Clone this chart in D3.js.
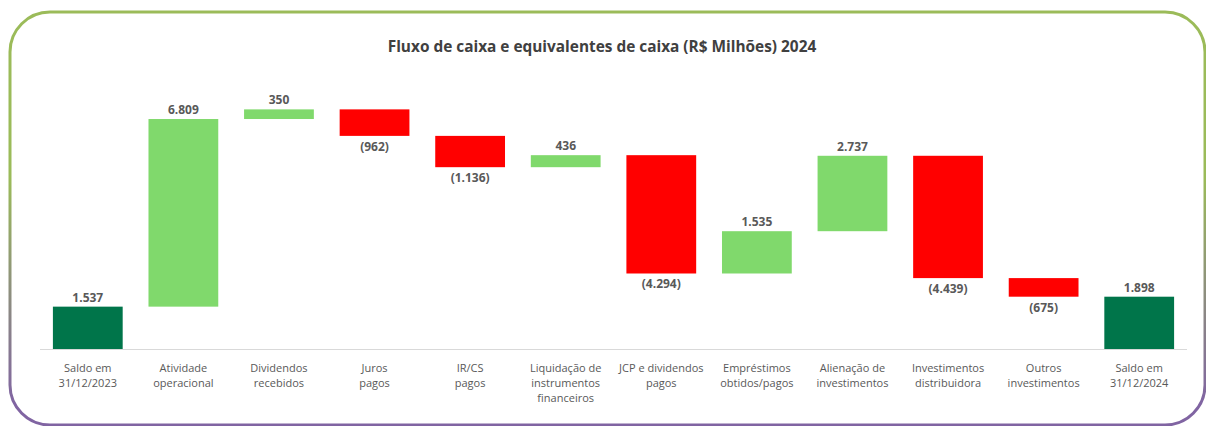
<!DOCTYPE html>
<html>
<head>
<meta charset="utf-8">
<script src="https://cdn.jsdelivr.net/npm/d3@7"></script>
<style>
  body { margin: 0; background: #fff; }
  svg { display: block; font-family: "Open Sans", sans-serif; }
</style>
</head>
<body>
<div id="chart"></div>
<script>
// categories (line breaks as in the original)
const categories = [
  ["Saldo em", "31/12/2023"],
  ["Atividade", "operacional"],
  ["Dividendos", "recebidos"],
  ["Juros", "pagos"],
  ["IR/CS", "pagos"],
  ["Liquidação de", "instrumentos", "financeiros"],
  ["JCP e dividendos", "pagos"],
  ["Empréstimos", "obtidos/pagos"],
  ["Alienação de", "investimentos"],
  ["Investimentos", "distribuidora"],
  ["Outros", "investimentos"],
  ["Saldo em", "31/12/2024"]
];
// values in R$ millions; first and last are totals
const values = [1537, 6809, 350, -962, -1136, 436, -4294, 1535, 2737, -4439, -675, 1898];
const kinds = ["total", "delta", "delta", "delta", "delta", "delta", "delta", "delta", "delta", "delta", "delta", "total"];

const width = 1206, height = 426;

const svg = d3.select("#chart").append("svg")
  .attr("width", width)
  .attr("height", height);

// border gradient green -> purple
const grad = svg.append("defs").append("linearGradient")
  .attr("id", "border")
  .attr("x1", 0).attr("y1", 0).attr("x2", 0).attr("y2", 1);
grad.append("stop").attr("offset", "0%").attr("stop-color", "#9bbb59");
grad.append("stop").attr("offset", "40%").attr("stop-color", "#9bbb59");
grad.append("stop").attr("offset", "95%").attr("stop-color", "#8064a2");

svg.append("rect")
  .attr("x", 10).attr("y", 12)
  .attr("width", 1195).attr("height", 413)
  .attr("rx", 40).attr("ry", 40)
  .attr("fill", "#fff")
  .attr("stroke", "url(#border)")
  .attr("stroke-width", 3);

svg.append("text")
  .attr("x", 602).attr("y", 52)
  .attr("text-anchor", "middle")
  .attr("font-size", 15.4)
  .attr("font-weight", "bold")
  .attr("fill", "#404040")
  .text("Fluxo de caixa e equivalentes de caixa (R$ Milhões) 2024");

// build waterfall steps
let running = 0;
const steps = values.map((v, i) => {
  let start, end;
  if (kinds[i] === "total") {
    start = 0; end = v; running = v;
  } else {
    start = running; end = running + v; running = end;
  }
  return { i, v, kind: kinds[i], start, end };
});

const x = d3.scaleBand()
  .domain(d3.range(categories.length))
  .range([40, 1187])
  .paddingInner(0.27)
  .paddingOuter(0.135);

const y = d3.scaleLinear()
  .domain([0, 9000])
  .range([349, 101]);

const fmt = v => {
  const s = d3.format(",")(Math.abs(v)).replace(/,/g, ".");
  return v < 0 ? "(" + s + ")" : s;
};

const color = d => d.kind === "total" ? "#00754a" : (d.v >= 0 ? "#80d96c" : "#ff0000");

// baseline
svg.append("line")
  .attr("x1", 40).attr("x2", 1187)
  .attr("y1", y(0) + 0.5).attr("y2", y(0) + 0.5)
  .attr("stroke", "#d9d9d9");

svg.selectAll("rect.bar")
  .data(steps)
  .join("rect")
  .attr("class", "bar")
  .attr("x", d => x(d.i))
  .attr("width", x.bandwidth())
  .attr("y", d => y(Math.max(d.start, d.end)))
  .attr("height", d => Math.abs(y(d.start) - y(d.end)))
  .attr("fill", color);

// value labels
svg.selectAll("text.val")
  .data(steps)
  .join("text")
  .attr("class", "val")
  .attr("x", d => x(d.i) + x.bandwidth() / 2)
  .attr("y", d => d.v >= 0 ? y(Math.max(d.start, d.end)) - 5 : y(Math.min(d.start, d.end)) + 15)
  .attr("text-anchor", "middle")
  .attr("font-size", 12)
  .attr("font-weight", "bold")
  .attr("fill", "#595959")
  .text(d => fmt(d.v));

// category labels
const cat = svg.selectAll("text.cat")
  .data(categories)
  .join("text")
  .attr("class", "cat")
  .attr("text-anchor", "middle")
  .attr("font-size", 11)
  .attr("fill", "#595959");

cat.selectAll("tspan")
  .data((d, i) => d.map(line => ({ line, i })))
  .join("tspan")
  .attr("x", d => x(d.i) + x.bandwidth() / 2)
  .attr("y", (d, j) => 372 + j * 15)
  .text(d => d.line);
</script>
</body>
</html>
